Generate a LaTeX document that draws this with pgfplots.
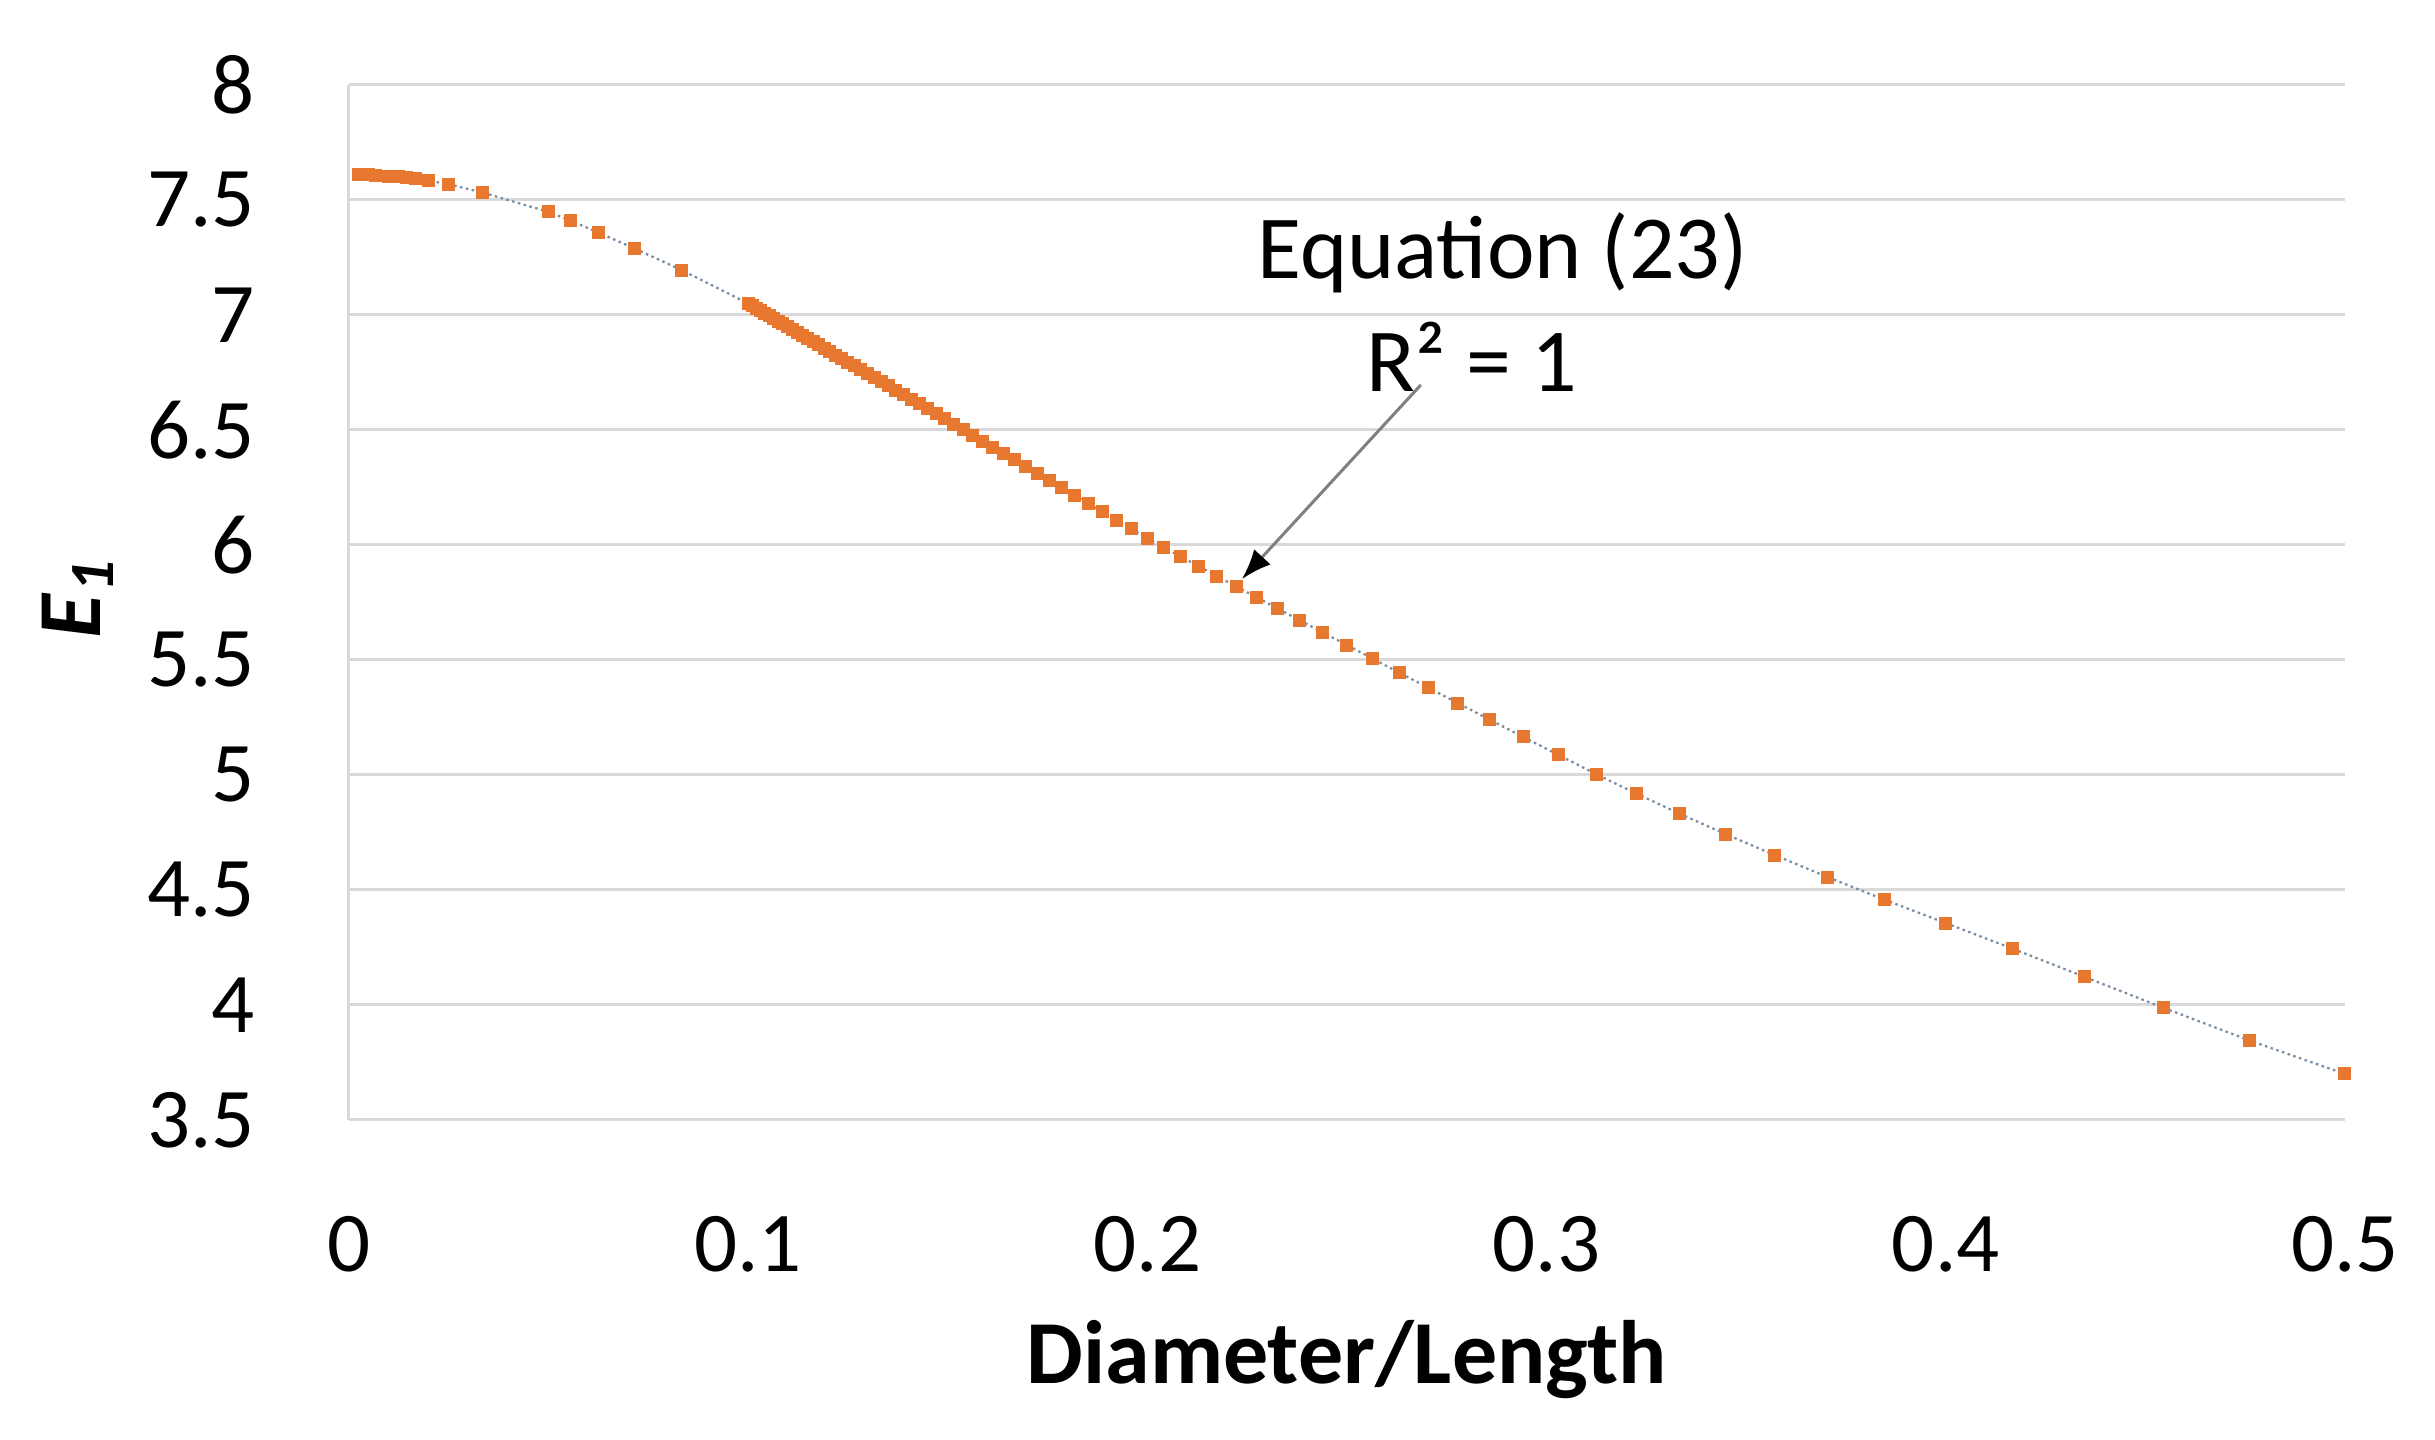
\documentclass[border=0pt]{standalone}
\usepackage{pgfplots}
\pgfplotsset{compat=1.18}
\usepackage{pgfplotstable}
\usepackage{fontspec}
\setmainfont{Carlito}
\usetikzlibrary{arrows.meta}
\definecolor{ser}{HTML}{E8782F}
\definecolor{trend}{RGB}{120,140,165}
\definecolor{gridc}{HTML}{D9D9D9}
\pgfplotstableread{
x y
0.0025 7.610
0.00333 7.610
0.005 7.609
0.00667 7.607
0.01 7.604
0.01111 7.602
0.0125 7.600
0.01429 7.597
0.01667 7.592
0.02 7.584
0.025 7.568
0.03333 7.533
0.05 7.448
0.05556 7.410
0.0625 7.358
0.07143 7.290
0.08333 7.195
0.1 7.050
0.10101 7.040
0.10204 7.029
0.10309 7.019
0.10417 7.008
0.10526 6.996
0.10638 6.985
0.10753 6.973
0.10870 6.961
0.10989 6.949
0.11111 6.937
0.11236 6.924
0.11364 6.911
0.11494 6.898
0.11628 6.884
0.11765 6.870
0.11905 6.856
0.12048 6.841
0.12195 6.826
0.12346 6.811
0.125 6.795
0.12658 6.779
0.12821 6.762
0.12987 6.745
0.13158 6.728
0.13333 6.710
0.13514 6.692
0.13699 6.673
0.13889 6.653
0.14085 6.633
0.14286 6.613
0.14493 6.592
0.14706 6.570
0.14925 6.548
0.15152 6.525
0.15385 6.501
0.15625 6.476
0.15873 6.451
0.16129 6.425
0.16393 6.398
0.16667 6.370
0.16949 6.341
0.17241 6.311
0.17544 6.280
0.17857 6.249
0.18182 6.215
0.18519 6.181
0.18868 6.145
0.19231 6.108
0.19608 6.070
0.2 6.030
0.2041 5.990
0.2083 5.950
0.2128 5.908
0.2174 5.865
0.2222 5.820
0.2273 5.773
0.2326 5.724
0.2381 5.673
0.2439 5.620
0.25 5.565
0.2564 5.506
0.2632 5.444
0.2703 5.380
0.2778 5.312
0.2857 5.241
0.2941 5.166
0.3030 5.087
0.3125 5.003
0.3226 4.918
0.3333 4.832
0.3448 4.743
0.3571 4.652
0.3704 4.556
0.3846 4.458
0.4 4.356
0.4167 4.245
0.4348 4.122
0.4545 3.988
0.4762 3.845
0.5 3.700
}\datatab
\begin{document}
\begin{tikzpicture}
\useasboundingbox (0,0) rectangle (487pt,288pt);
\begin{axis}[
  at={(69.8pt,64pt)}, anchor=south west,
  scale only axis, width=399.2pt, height=207pt,
  xmin=0, xmax=0.5, ymin=3.5, ymax=8,
  xtick={0,0.1,0.2,0.3,0.4,0.5},
  xticklabels={0,0.1,0.2,0.3,0.4,0.5},
  ytick={3.5,4,4.5,5,5.5,6,6.5,7,7.5,8},
  yticklabels={3.5,4,4.5,5,5.5,6,6.5,7,7.5,8},
  axis x line=bottom, axis y line=left,
  axis line style={-, gridc, line width=0.6pt},
  major tick length=0pt,
  ymajorgrids, grid style={gridc, line width=0.6pt},
  tick label style={font=\fontsize{17}{20}\selectfont, text=black},
  yticklabel style={anchor=east, inner sep=0pt, xshift=-18.6pt},
  xticklabel style={anchor=north, inner sep=0pt, yshift=-19pt},
  xlabel={\textbf{Diameter/Length}},
  xlabel style={font=\fontsize{18}{21}\selectfont, at={(rel axis cs:0.5,-0.231)}, anchor=center},
  ylabel={\textbf{\textit{E}\textsubscript{\textit{1}}}},
  ylabel style={font=\fontsize{18}{21}\selectfont, at={(rel axis cs:-0.136,0.504)}, anchor=center, rotate=0},
  clip=false,
]
\addplot[only marks, mark=square*, mark size=1.1pt, mark options={fill=ser, draw=ser}] table {\datatab};
\addplot[trend, line width=0.45pt, dash pattern=on 0.5pt off 0.7pt, no marks] table {\datatab};
\node[font=\fontsize{18}{21}\selectfont] at (axis cs:0.289,7.27) {Equation (23)};
\node[font=\fontsize{18}{21}\selectfont] at (axis cs:0.2813,6.817) {R² = 1};
\draw[gray, line width=0.6pt, -{Latex[black, length=6pt, width=4.5pt]}] (axis cs:0.2685,6.696) -- (axis cs:0.2237,5.852);
\end{axis}
\end{tikzpicture}
\end{document}
